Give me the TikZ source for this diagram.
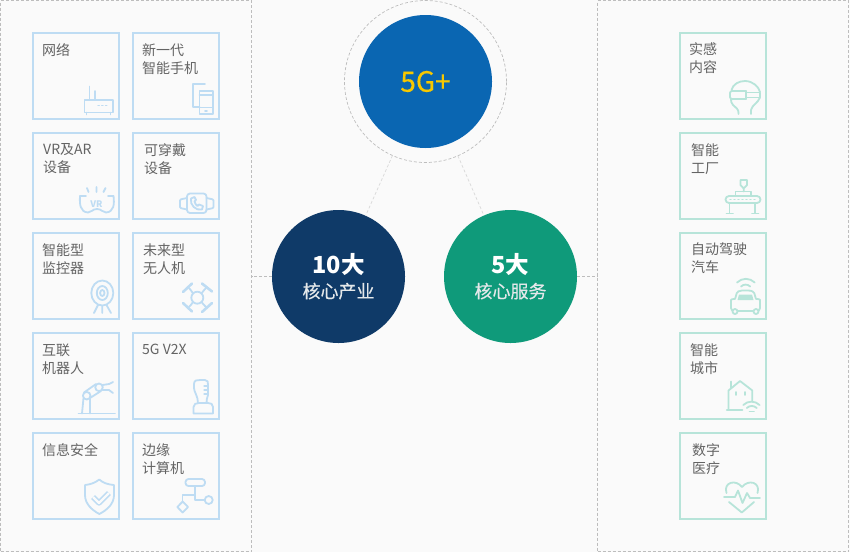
\documentclass[tikz,border=0pt]{standalone}
\usepackage{fontspec}
\setmainfont{Noto Sans CJK SC}
\newfontfamily\medcjk{Noto Sans CJK SC}[FakeBold=0.35]
\definecolor{bgc}{HTML}{FAFAFA}
\definecolor{dashc}{HTML}{BDBDBD}
\definecolor{linkc}{HTML}{D9D9D9}
\definecolor{blu}{HTML}{BEDCF3}
\definecolor{grn}{HTML}{B7E4D9}
\definecolor{txt}{HTML}{636363}
\definecolor{cA}{HTML}{0A66B2}
\definecolor{cB}{HTML}{0F3A68}
\definecolor{cC}{HTML}{0F9A7A}
\definecolor{gold}{HTML}{F7C800}
\definecolor{soft}{HTML}{E4E8EA}
\tikzset{
  panel/.style={draw=dashc,line width=0.7pt,dash pattern=on 3pt off 2pt,anchor=north west,inner sep=0pt,outer sep=0pt},
  cardL/.style={draw=blu,line width=2.8pt,minimum size=86pt,inner sep=0pt,outer sep=0pt},
  cardR/.style={draw=grn,line width=2.8pt,minimum size=86pt,inner sep=0pt,outer sep=0pt},
  lab/.style={anchor=north west,inner sep=0pt,text=txt,align=left,font=\fontsize{14}{18}\selectfont},
  bigc/.style={circle,minimum size=133pt,inner sep=0pt,outer sep=0pt,align=center},
  ic/.style={line width=1.8pt,line cap=round,line join=round},
  icb/.style={ic,draw=blu},
  icg/.style={ic,draw=grn},
  link/.style={draw=linkc,line width=0.7pt,dash pattern=on 3pt off 2pt},
  stub/.style={draw=dashc,line width=0.7pt,dash pattern=on 3pt off 2pt}
}
\begin{document}
\begin{tikzpicture}[x=1pt,y=-1pt]
\useasboundingbox (0,0) rectangle (850,552);
\fill[bgc] (0,0) rectangle (850,552);
% panels
\node[panel,minimum width=251pt,minimum height=551pt] (pl) at (0.5,0.5) {};
\node[panel,minimum width=251pt,minimum height=551pt] (pr) at (597.6,0.5) {};
% circles
\node[circle,draw=dashc,line width=0.7pt,dash pattern=on 3pt off 2pt,minimum size=162pt,inner sep=0pt,outer sep=0pt] (ring) at (425.5,81.5) {};
\node[bigc,fill=cA] (fiveg) at (425.5,81.5) {\textcolor{gold}{\medcjk\fontsize{28}{32}\selectfont 5G+}};
\node[bigc,fill=cB] (ten) at (338.5,276.5) {\textcolor{white}{\bfseries\fontsize{23.5}{28}\selectfont 10大}\\[6pt]\textcolor{soft}{\medcjk\fontsize{18}{24}\selectfont 核心产业}};
\node[bigc,fill=cC] (five) at (510.5,276.5) {\textcolor{white}{\bfseries\fontsize{23.5}{28}\selectfont 5大}\\[6pt]\textcolor{soft}{\medcjk\fontsize{18}{24}\selectfont 核心服务}};
\draw[link] (ring) -- (ten);
\draw[link] (ring) -- (five);
\draw[stub] (ten.west) -- (ten.west -| pl.east);
\draw[stub] (five.east) -- (five.east -| pr.west);
% left cards
\node[cardL] (a1) at (76,76) {};
\node[cardL] (a2) at (176,76) {};
\node[cardL] (b1) at (76,176) {};
\node[cardL] (b2) at (176,176) {};
\node[cardL] (c1) at (76,276) {};
\node[cardL] (c2) at (176,276) {};
\node[cardL] (d1) at (76,376) {};
\node[cardL] (d2) at (176,376) {};
\node[cardL] (e1) at (76,476) {};
\node[cardL] (e2) at (176,476) {};
% right cards
\node[cardR] (r1) at (723,76) {};
\node[cardR] (r2) at (723,176) {};
\node[cardR] (r3) at (723,276) {};
\node[cardR] (r4) at (723,376) {};
\node[cardR] (r5) at (723,476) {};
% labels
\node[lab] (ta1) at (42,43.5) {网络};
\node[lab] (ta2) at (142,43.5) {新一代\\智能手机};
\node[lab] (tb1) at (43,143.5) {VR及AR\\设备};
\node[lab] (tb2) at (144,143.5) {可穿戴\\设备};
\node[lab] (tc1) at (42,243.5) {智能型\\监控器};
\node[lab] (tc2) at (143,243.5) {未来型\\无人机};
\node[lab] (td1) at (42,343.5) {互联\\机器人};
\node[lab] (td2) at (142,343.5) {5G V2X};
\node[lab] (te1) at (42,443.5) {信息安全};
\node[lab] (te2) at (142,443.5) {边缘\\计算机};
\node[lab] (tr1) at (689,42.5) {实感\\内容};
\node[lab] (tr2) at (691,143) {智能\\工厂};
\node[lab] (tr3) at (691,243) {自动驾驶\\汽车};
\node[lab] (tr4) at (690,343) {智能\\城市};
\node[lab] (tr5) at (692,443) {数字\\医疗};
% router
\draw[icb] (84.5,100) rectangle (113,112.5);
\draw[icb] (89.5,100) -- (89.5,86.5) (95,100) -- (95,91);
\draw[icb] (86.5,112.5) -- (86.5,114.5) (110.5,112.5) -- (110.5,114.5);
\draw[icb,line width=1.4pt,dash pattern=on 1.2pt off 2.6pt] (98,105.5) -- (109,105.5);
% phones
\draw[icb] (205,84) -- (193,84) -- (193,107) -- (199.5,107);
\draw[icb] (199.5,91) rectangle (213,114);
\draw[icb] (199.5,95) -- (213,95) (199.5,107.5) -- (213,107.5) (205,110.8) -- (207,110.8);
% VR
\draw[icb] (80,196) .. controls (79.5,204) and (80,212) .. (88,212.5) .. controls (92,212.5) and (92,209) .. (97,209) .. controls (102,209) and (102,212.5) .. (106,212.5) .. controls (114,212) and (114.5,204) .. (113.5,196);
\draw[icb] (80,196) -- (86,196) (108,196) -- (113.5,196);
\draw[icb] (87,188) -- (88.5,192) (96.5,187) -- (96.5,192) (105.5,188) -- (103.5,192);
\node[inner sep=0pt,text=blu,font=\bfseries\fontsize{9}{9}\selectfont] (vrt) at (96.5,204) {VR};
% wearable
\draw[icb,rounded corners=3pt] (187,193.5) rectangle (206.5,213);
\draw[icb,rounded corners=1pt] (187,198) -- (180,199.5) -- (180,208) -- (187,209.5);
\draw[icb,rounded corners=1pt] (206.5,198) -- (213.5,199.5) -- (213.5,208) -- (206.5,209.5);
\draw[icb] (191,198.5) .. controls (189.5,205) and (196,211) .. (202,209.5) -- (203,206) -- (199,204.5) -- (197.5,206) .. controls (196,205) and (195,203.5) .. (194.5,201.5) -- (196,200) -- (194.5,197) -- cycle;
% camera
\draw[icb] (102.3,293) ellipse [x radius=11pt,y radius=12.5pt];
\draw[icb] (102.3,293) ellipse [x radius=5.5pt,y radius=7pt];
\draw[icb] (102.3,293) ellipse [x radius=2.2pt,y radius=3pt];
\draw[icb] (98,305) -- (94,313) (106.5,305) -- (111,313) (102.3,306) -- (102.3,313);
% drone
\draw[icb] (197.3,297.7) circle [radius=6pt];
\draw[icb] (193,293.5) .. controls (191,292) and (192,290) .. (189,288);
\draw[icb] (201.5,293.5) .. controls (203.5,292) and (203,290) .. (206,288);
\draw[icb] (193,302) .. controls (191,303.5) and (192,305) .. (189,307);
\draw[icb] (201.5,302) .. controls (203.5,303.5) and (203,305) .. (206,307);
\draw[icb,line width=2.6pt] (183,292) -- (192,283.5) (202,283.5) -- (212,291.5) (183,303) -- (192,311.5) (202,312) -- (212,303);
% robot arm
\draw[icb] (78.5,413.5) -- (115,413.5);
\draw[icb] (82,413.5) -- (83.5,398) (90,413.5) -- (90,399);
\draw[icb] (86.7,395.7) circle [radius=3.8pt] (99,387.3) circle [radius=3.8pt];
\draw[icb] (84,392.5) -- (96,384) (90,398) -- (101,391);
\draw[icb] (102.5,385) -- (109,384) -- (113,382) (102.5,390) -- (109,390) -- (113,393);
% joystick
\draw[icb] (194,413.5) -- (213,413.5) -- (213,407) .. controls (213,404) and (211,403) .. (208,403) -- (199,403) .. controls (196,403) and (193.5,404) .. (193.5,407) -- (193.5,413.5);
\draw[icb] (198,403) .. controls (198,396) and (194,392) .. (194,388) -- (194,384) .. controls (194,380) and (197,380) .. (200,380) -- (205,380) .. controls (208,380) and (208,382) .. (208,385) -- (208,395) .. controls (207,398) and (206.5,400) .. (206.5,403);
\draw[icb,line width=1.2pt] (204,386) -- (208,386) (204,390) -- (208,390) (204,394) -- (208,394);
% shield
\draw[icb] (99.3,479.5) .. controls (95,483) and (90,484.5) .. (85,485) -- (85,495) .. controls (85,504) and (92,510) .. (99.3,514) .. controls (107,510) and (114,504) .. (114,495) -- (114,485) .. controls (108,484.5) and (103,483) .. (99.3,479.5) -- cycle;
\draw[icb,line width=5.4pt,line cap=butt] (93,497) -- (99,503) -- (109,493);
\draw[draw=bgc,line width=2.2pt,line cap=butt,line join=round] (93,497) -- (99,503) -- (109,493);
% flow
\draw[icb,rounded corners=3pt] (185.5,479) rectangle (205,486);
\draw[icb] (195,486) -- (195,500) -- (204,500) (182.5,501) -- (182.5,495) -- (195,495);
\draw[icb] (208.7,500) circle [radius=4pt];
\draw[icb] (182.7,501.5) -- (188,507) -- (182.7,512.5) -- (177.3,507) -- cycle;
% head with goggles
\draw[icg] (738.5,114) .. controls (739,109) and (736,108) .. (733,105) .. controls (731,103) and (731,101) .. (731,99);
\draw[icg] (731.5,90) .. controls (733,84) and (739,81) .. (745,81) .. controls (753,81) and (759,87) .. (760,92);
\draw[icg,rounded corners=2pt] (746,91) -- (730,91) -- (730,99) -- (746,99);
\draw[icg] (746,91) -- (746,99) (746,92.5) -- (760,92.5) -- (760,97.5) -- (746,97.5);
\draw[icg] (760,97.5) .. controls (758,103) and (752,105) .. (751,110) -- (751,114);
% factory
\draw[icg,rounded corners=3.5pt] (725.5,196) rectangle (760.5,203);
\draw[icg,line width=1.2pt,dash pattern=on 1pt off 3pt] (730,199.5) -- (757,199.5);
\draw[icg] (729.5,203) -- (729.5,213) (755,203) -- (755,213) (726.5,213.5) -- (733,213.5) (752,213.5) -- (758.5,213.5);
\draw[icg] (735.5,196) -- (735.5,191.5) -- (751,191.5) -- (751,196);
\draw[icg] (740.5,180) -- (747,180) -- (747,185) -- (743.7,188.5) -- (740.5,185) -- cycle (743.7,188.5) -- (743.7,191.5);
% car
\draw[icg] (737,282.5) arc [start angle=135,end angle=45,radius=12.5pt];
\draw[icg] (741,286.5) arc [start angle=135,end angle=45,radius=6.5pt];
\draw[icg,rounded corners=3pt] (731,311) -- (731,303) .. controls (731,299) and (735,299) .. (736,296) .. controls (737,292) and (739,290.5) .. (745,290.5) .. controls (752,290.5) and (754,292) .. (755,296) .. controls (756,299) and (760,299) .. (760,303) -- (760,311) -- cycle;
\fill[grn] (739,294.5) -- (752,294.5) -- (753.5,300) -- (737.5,300) -- cycle;
\draw[icg,fill=bgc] (735,311.5) circle [radius=2.5pt] (756,311.5) circle [radius=2.5pt];
% city
\draw[icg] (726.8,410) -- (742.5,410) (728.5,410) -- (728.5,390.5) -- (740,381) -- (752.3,390.5) -- (752.3,401);
\draw[icg] (731,381.5) -- (731,388);
\draw[icg] (735.8,392) -- (735.8,395) (745,392) -- (745,395);
\draw[icg] (743.3,405) arc [start angle=135,end angle=45,radius=11.5pt];
\draw[icg] (746.8,408) arc [start angle=135,end angle=45,radius=7pt];
\draw[icg] (749.5,411.5) -- (754,411.5);
% heart
\draw[icg] (724,497) -- (731,497) -- (735,497) -- (738,490.5) -- (742.5,503) -- (747,493) -- (750,498) -- (760,498);
\draw[icg] (726.5,493) .. controls (723,482) and (736,479) .. (742,487) .. controls (748,479) and (761,482) .. (757.5,493);
\draw[icg] (729,502) -- (741.8,512.5) -- (754,502);
\end{tikzpicture}
\end{document}
